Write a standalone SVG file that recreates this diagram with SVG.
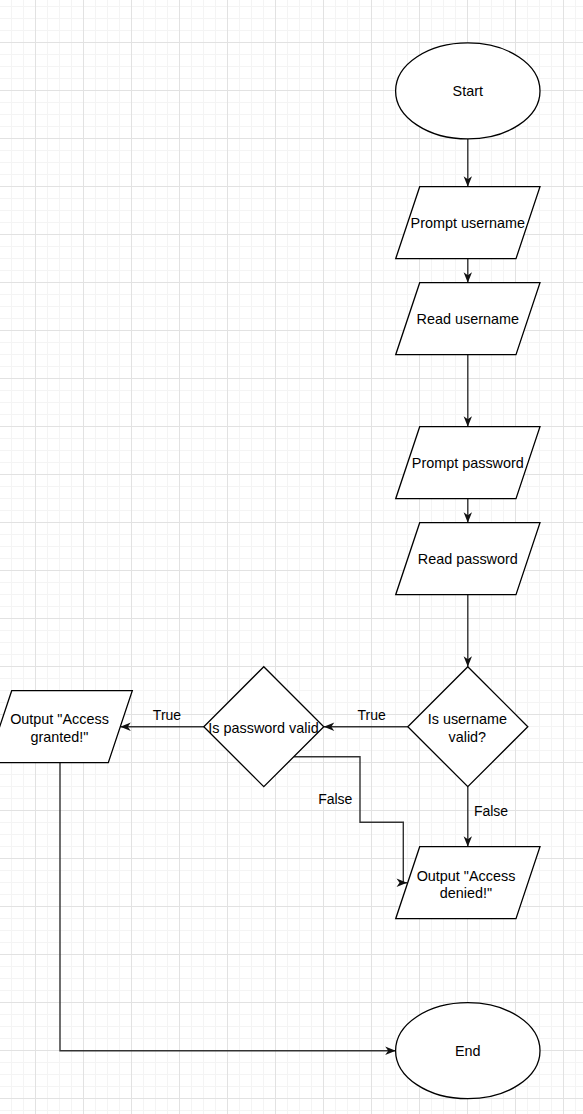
<svg xmlns="http://www.w3.org/2000/svg" width="583" height="1114" viewBox="0 0 583 1114">
<style>
.shape{fill:#ffffff;stroke:#000000;stroke-width:1.3}
.edge{fill:none;stroke:#333333;stroke-width:1.4}
.t{font-family:"Liberation Sans",Arial,sans-serif;font-size:14.4px;fill:#000000;text-anchor:middle}
.lbl{font-family:"Liberation Sans",Arial,sans-serif;font-size:14px;fill:#000000;text-anchor:middle}
</style>
<defs>
<pattern id="grid" patternUnits="userSpaceOnUse" x="35" y="42" width="48" height="48">
<path d="M12.5 0V48M24.5 0V48M36.5 0V48M0 12.5H48M0 24.5H48M0 36.5H48" stroke="#f4f4f4" stroke-width="1" fill="none"/>
<path d="M0.5 0V48M0 0.5H48" stroke="#e2e2e2" stroke-width="1" fill="none"/>
</pattern>
<marker id="arr" markerUnits="userSpaceOnUse" markerWidth="14" markerHeight="12" viewBox="-12 -6 14 12" refX="0" refY="0" orient="auto">
<path d="M0,0 L-10.5,-4.2 L-7.5,0 L-10.5,4.2 Z" fill="#111111" stroke="none"/>
</marker>
</defs>
<rect x="0" y="0" width="583" height="1114" fill="#ffffff"/>
<rect x="0" y="0" width="583" height="1114" fill="url(#grid)"/>

<g id="connectors">
<path class="edge" d="M467.8 139V186.7" marker-end="url(#arr)"/>
<path class="edge" d="M467.8 258.7V282.7" marker-end="url(#arr)"/>
<path class="edge" d="M467.8 354.7V426.7" marker-end="url(#arr)"/>
<path class="edge" d="M467.8 498.7V522.7" marker-end="url(#arr)"/>
<path class="edge" d="M467.8 594.7V666.7" marker-end="url(#arr)"/>
<path class="edge" d="M407.8 726.7H323.8" marker-end="url(#arr)"/>
<path class="edge" d="M203.8 726.7H120.3" marker-end="url(#arr)"/>
<path class="edge" d="M467.8 786.7V846.7" marker-end="url(#arr)"/>
<path class="edge" d="M293.8 756.7H360V822.3H403.3V882.7H407" marker-end="url(#arr)"/>
<path class="edge" d="M60 762.7V1050.7H395.7" marker-end="url(#arr)"/>
<text class="lbl" x="371.7" y="720">True</text>
<text class="lbl" x="167" y="720">True</text>
<text class="lbl" x="491" y="816">False</text>
<text class="lbl" x="335.3" y="804.3">False</text>
</g>

<g id="start">
<ellipse class="shape" cx="467.8" cy="90.9" rx="72.2" ry="48"/>
<text class="t" x="467.8" y="96">Start</text>
</g>
<g id="prompt-username">
<polygon class="shape" points="419.7,186.7 540,186.7 516,258.7 395.7,258.7"/>
<text class="t" x="467.8" y="228.3">Prompt username</text>
</g>
<g id="read-username">
<polygon class="shape" points="419.7,282.7 540,282.7 516,354.7 395.7,354.7"/>
<text class="t" x="467.8" y="323.5">Read username</text>
</g>
<g id="prompt-password">
<polygon class="shape" points="419.7,426.7 540,426.7 516,498.7 395.7,498.7"/>
<text class="t" x="467.8" y="468">Prompt password</text>
</g>
<g id="read-password">
<polygon class="shape" points="419.7,522.7 540,522.7 516,594.7 395.7,594.7"/>
<text class="t" x="467.8" y="564">Read password</text>
</g>
<g id="username-valid">
<polygon class="shape" points="467.8,666.7 527.8,726.7 467.8,786.7 407.8,726.7"/>
<text class="t" x="467.3" y="724.3">Is username</text>
<text class="t" x="467.3" y="741.7">valid?</text>
</g>
<g id="password-valid">
<polygon class="shape" points="263.8,666.7 323.8,726.7 263.8,786.7 203.8,726.7"/>
<text class="t" x="263.5" y="732.7">Is password valid</text>
</g>
<g id="access-granted">
<polygon class="shape" points="11.7,690.7 132.3,690.7 108.3,762.7 -12.3,762.7"/>
<text class="t" x="59.5" y="724.3">Output "Access</text>
<text class="t" x="59.5" y="741.7">granted!"</text>
</g>
<g id="access-denied">
<polygon class="shape" points="419.7,846.7 540,846.7 516,918.7 395.7,918.7"/>
<text class="t" x="466" y="880.7">Output "Access</text>
<text class="t" x="466" y="897.7">denied!"</text>
</g>
<g id="end">
<ellipse class="shape" cx="467.8" cy="1050.7" rx="72.2" ry="48"/>
<text class="t" x="467.8" y="1055.7">End</text>
</g>
</svg>
